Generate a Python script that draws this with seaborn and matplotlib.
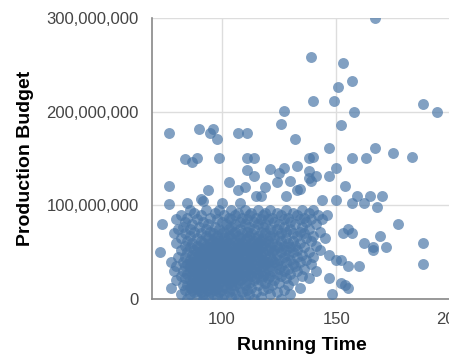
import numpy as np
import pandas as pd
import matplotlib
matplotlib.use("Agg")
import matplotlib.pyplot as plt
import seaborn as sns
from matplotlib.ticker import FuncFormatter

band_budget = [95, 92, 90, 87, 85, 82, 80, 77, 75, 72, 70, 67, 65, 62, 60, 57, 55, 52, 50,
               47, 45, 42, 40, 37, 35, 32, 30, 27, 25, 22, 20, 17, 15, 12, 10, 7, 5, 2, 0.5]
band_time = [
    [86, 93, 99, 104, 110, 116, 121, 128, 135, 140],
    [88, 97, 107, 113, 119, 124, 131, 138],
    [82, 91, 101, 106, 112, 118, 126, 133, 142, 146],
    [85, 95, 103, 109, 115, 122, 129, 136],
    [80, 89, 98, 104, 111, 117, 120, 127, 134, 139, 144],
    [84, 92, 100, 108, 114, 123, 130, 137],
    [74, 87, 94, 102, 106, 110, 116, 119, 125, 132, 141, 177],
    [83, 90, 97, 104, 112, 118, 127, 135],
    [81, 86, 93, 99, 103, 108, 114, 121, 124, 130, 138, 155],
    [88, 95, 101, 106, 111, 117, 122, 128, 134, 143],
    [79, 84, 91, 96, 100, 105, 109, 113, 119, 126, 131, 136, 153, 157],
    [86, 93, 98, 103, 107, 112, 116, 121, 125, 133, 140, 169],
    [82, 89, 94, 97, 101, 104, 108, 111, 115, 118, 123, 128, 137, 145],
    [85, 91, 96, 99, 102, 106, 110, 114, 117, 120, 126, 131, 139],
    [80, 87, 92, 95, 98, 100, 103, 107, 109, 113, 116, 119, 122, 129, 134, 162, 188],
    [84, 89, 93, 97, 101, 105, 108, 112, 115, 118, 124, 127, 132, 141],
    [86, 90, 94, 96, 99, 102, 104, 107, 110, 114, 117, 121, 125, 130, 136, 166, 172],
    [82, 88, 92, 95, 98, 101, 106, 109, 111, 113, 116, 120, 123, 128, 133, 143, 166],
    [73, 85, 89, 91, 94, 97, 100, 103, 105, 108, 112, 115, 118, 122, 126, 131, 138],
    [87, 90, 93, 96, 99, 102, 104, 107, 110, 114, 117, 119, 124, 129, 135, 147],
    [81, 84, 88, 92, 95, 98, 101, 103, 106, 109, 111, 113, 116, 121, 127, 133, 140],
    [86, 89, 91, 94, 97, 100, 102, 105, 108, 112, 115, 118, 122, 125, 130, 137, 150, 152],
    [78, 83, 87, 90, 93, 96, 99, 101, 104, 107, 110, 113, 117, 120, 123, 128, 134],
    [85, 88, 92, 95, 98, 100, 103, 106, 109, 111, 114, 119, 124, 131, 139, 188],
    [80, 84, 86, 89, 91, 94, 97, 99, 102, 105, 108, 112, 116, 118, 121, 126, 132, 155, 160],
    [87, 90, 93, 96, 100, 103, 107, 110, 113, 115, 120, 125, 129, 136],
    [79, 83, 86, 88, 91, 94, 97, 99, 101, 104, 106, 109, 111, 114, 117, 122, 127, 133, 141],
    [85, 89, 92, 95, 98, 102, 105, 108, 112, 116, 119, 124, 130],
    [82, 87, 90, 93, 96, 99, 100, 103, 107, 110, 113, 118, 121, 126, 135],
    [84, 88, 91, 94, 97, 101, 104, 106, 109, 115, 120, 128, 138, 147],
    [80, 86, 89, 92, 95, 98, 100, 102, 105, 108, 111, 114, 117, 123, 131],
    [87, 90, 93, 96, 99, 103, 107, 112, 119, 125, 152],
    [83, 85, 88, 91, 94, 97, 101, 104, 106, 110, 116, 122, 129, 154],
    [78, 86, 89, 92, 95, 98, 102, 108, 113, 120, 134, 155],
    [84, 87, 90, 94, 97, 100, 105, 111, 118, 127],
    [88, 91, 95, 99, 103, 109, 115, 124],
    [82, 86, 92, 96, 101, 106, 112, 121, 130, 148],
    [89, 94, 98, 104, 110, 117],
    [85, 92, 100, 107, 114, 126],
]

# sparse points above ~100M
outlier_time = [167, 139, 153, 157, 151, 140, 149, 158, 188, 194, 152, 147, 140, 138, 157, 163,
                167, 175, 183, 138, 150, 147, 141, 139, 154, 159, 165, 170, 144, 150, 134,
                77, 90, 96, 95, 98, 107, 111, 127, 126, 132, 84, 87, 89, 99, 111, 114, 111,
                114, 103, 121, 125, 127, 133, 124, 130, 77, 94, 107, 110, 119, 128, 133, 91,
                115, 138, 77, 85, 92, 100, 108, 117, 157, 162, 168]
outlier_budget = [300, 258, 252, 233, 226, 211, 211, 200, 208, 200, 186, 161, 152, 151, 151, 151,
                  161, 156, 152, 137, 140, 131, 131, 126, 121, 110, 110, 110, 106, 106, 117,
                  177, 181, 181, 177, 171, 177, 177, 201, 187, 171, 150, 146, 151, 151, 151, 151, 138,
                  131, 125, 139, 135, 140, 142, 125, 126, 121, 116, 116, 120, 120, 110, 116, 107,
                  110, 129, 101, 102, 105, 102, 102, 110, 102, 102, 98]

running_time = [t for ts in band_time for t in ts] + outlier_time
budget = [b for b, ts in zip(band_budget, band_time) for _ in ts] + outlier_budget
df = pd.DataFrame({"Running Time": running_time,
                   "Production Budget": np.array(budget) * 1e6})

sns.set_style("white")
plt.rcParams["font.family"] = ["Liberation Sans", "DejaVu Sans"]

fig = plt.figure(figsize=(4.49, 3.57), dpi=100)
ax = fig.add_axes([152 / 449, 1 - 299 / 357, 298.5 / 449, 281 / 357])

sns.scatterplot(data=df, x="Running Time", y="Production Budget", ax=ax,
                color="#4c78a8", alpha=0.7, s=62, linewidth=0, zorder=3)

ax.set_xlim(69.5, 200)
ax.set_ylim(0, 300e6)
ax.set_xticks([100, 150, 200])
ax.set_yticks([0, 100e6, 200e6, 300e6])
ax.yaxis.set_major_formatter(FuncFormatter(lambda v, p: f"{int(v):,}"))
ax.grid(True, color="#dddddd", linewidth=1, zorder=0)
ax.set_axisbelow(True)

for side in ["top", "right"]:
    ax.spines[side].set_visible(False)
for side in ["left", "bottom"]:
    ax.spines[side].set_color("#888888")
    ax.spines[side].set_linewidth(1.2)

ax.tick_params(axis="both", length=6.5, width=1, color="#888888",
               labelsize=12, labelcolor="#444444", pad=3, direction="out")

ax.set_xlabel("Running Time", fontsize=14, fontweight="bold", color="black")
ax.set_ylabel("Production Budget", fontsize=14, fontweight="bold", color="black")
ax.xaxis.set_label_coords(0.503, -0.135)
ax.yaxis.set_label_coords(-0.395, 0.5)

fig.savefig("out.png", dpi=100)
